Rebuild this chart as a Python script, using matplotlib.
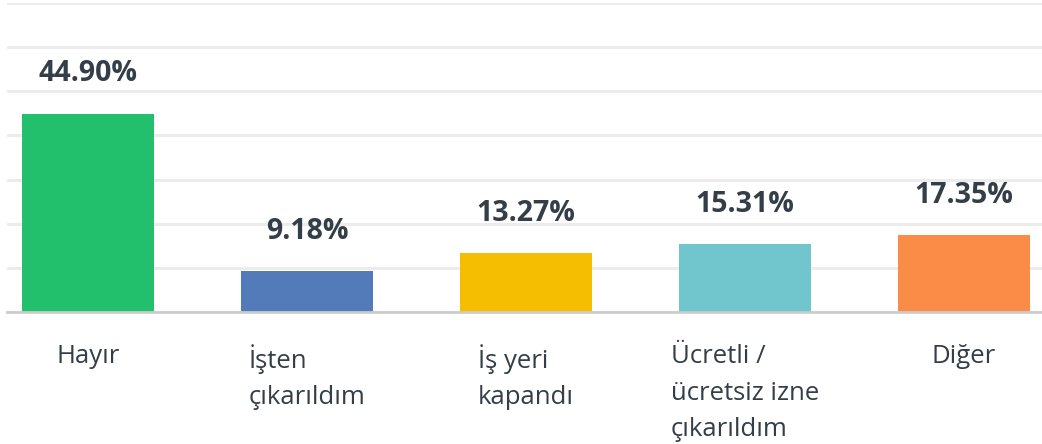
import matplotlib.pyplot as plt
import matplotlib.transforms as mtransforms

categories = ["Hayır", "İşten\nçıkarıldım", "İş yeri\nkapandı",
              "Ücretli /\nücretsiz izne\nçıkarıldım", "Diğer"]
values = [44.90, 9.18, 13.27, 15.31, 17.35]
colors = ["#22c06d", "#537bb9", "#f6be00", "#71c6cd", "#fb8c48"]

fig = plt.figure(figsize=(10.42, 4.44), dpi=100)
ax = fig.add_axes([7 / 1042, 1 - 312 / 444, 1 - 7 / 1042, 309 / 444])

x = range(len(values))
ax.bar(x, values, width=0.603, color=colors, zorder=3)

ax.set_ylim(0, 70)
ax.set_xlim(-0.37, 4.356)
ax.set_yticks(range(0, 71, 10))
ax.yaxis.grid(True, color="#ececec", linewidth=2.2, zorder=0)
ax.tick_params(left=False, bottom=False, labelleft=False, labelbottom=False)
for s in ["top", "right", "left"]:
    ax.spines[s].set_visible(False)
ax.spines["bottom"].set_color("#cccccc")
ax.spines["bottom"].set_linewidth(2)
ax.spines["bottom"].set_zorder(4)

for i, v in enumerate(values):
    ax.annotate(f"{v:.2f}%", (i, v), xytext=(0, 29), textcoords="offset points",
                ha="center", va="center", fontsize=20.5, fontweight="bold",
                color="#333e48", family="Open Sans")

trans = mtransforms.blended_transform_factory(ax.transData, ax.transAxes)
for i, c in enumerate(categories):
    ax.text(i, -0.104, c, transform=trans, ha="center", va="top",
            multialignment="left", fontsize=18.5, color="#333e48",
            family="Open Sans", linespacing=1.6)

fig.savefig("out.png", dpi=100)
